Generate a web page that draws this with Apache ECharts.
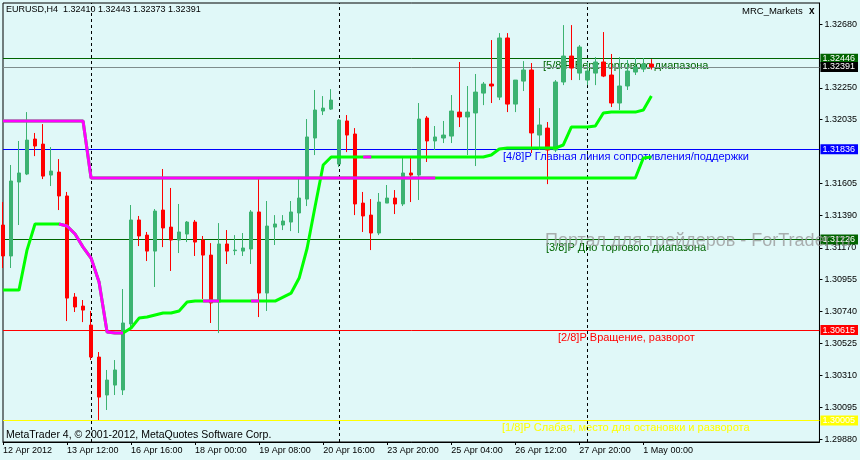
<!DOCTYPE html>
<html>
<head>
<meta charset="utf-8">
<title>EURUSD,H4</title>
<script src="https://cdn.jsdelivr.net/npm/echarts@6/dist/echarts.min.js"></script>
<style>
  html, body { margin: 0; padding: 0; background: #e0f8f8; }
  #chart { width: 860px; height: 460px; }
</style>
</head>
<body>
<div id="chart"></div>
<script>
// time axis: one label every 8 bars (H4)
const tickLabels = ['12 Apr 2012', '13 Apr 12:00', '16 Apr 16:00', '18 Apr 00:00', '19 Apr 08:00',
  '20 Apr 16:00', '23 Apr 20:00', '25 Apr 04:00', '26 Apr 12:00', '27 Apr 20:00', '1 May 00:00'];
const slotCount = 103; // bars + empty space on the right (chart shift)

// [open, close, low, high]
const candles = [
  [1.31324, 1.31115, 1.31034, 1.31479], [1.31115, 1.31621, 1.31034, 1.31729],
  [1.31614, 1.31675, 1.31324, 1.31891], [1.31668, 1.31897, 1.31661, 1.32086],
  [1.31904, 1.31857, 1.31789, 1.31945], [1.31870, 1.31654, 1.31634, 1.32005],
  [1.31661, 1.31688, 1.31587, 1.31850], [1.31681, 1.31520, 1.31425, 1.31769],
  [1.31520, 1.30831, 1.30676, 1.31547], [1.30838, 1.30771, 1.30737, 1.30865],
  [1.30777, 1.30750, 1.30669, 1.30818], [1.30649, 1.30433, 1.30413, 1.30744],
  [1.30433, 1.30163, 1.30008, 1.30467], [1.30177, 1.30278, 1.30076, 1.30346],
  [1.30244, 1.30346, 1.30177, 1.30413], [1.30211, 1.30663, 1.30177, 1.30892],
  [1.30656, 1.31358, 1.30615, 1.31459], [1.31358, 1.31250, 1.31182, 1.31385],
  [1.31256, 1.31148, 1.31081, 1.31277], [1.31148, 1.31418, 1.30906, 1.31432],
  [1.31425, 1.31304, 1.31175, 1.31702], [1.31310, 1.31223, 1.31014, 1.31574],
  [1.31223, 1.31277, 1.31135, 1.31466], [1.31263, 1.31344, 1.31209, 1.31351],
  [1.31344, 1.31209, 1.31115, 1.31358], [1.31223, 1.31121, 1.30825, 1.31250],
  [1.31121, 1.30798, 1.30663, 1.31202], [1.30804, 1.31196, 1.30595, 1.31337],
  [1.31196, 1.31148, 1.31061, 1.31290], [1.31151, 1.31155, 1.31121, 1.31256],
  [1.31148, 1.31169, 1.31115, 1.31270], [1.31162, 1.31412, 1.31061, 1.31425],
  [1.31412, 1.30865, 1.30703, 1.31634], [1.30865, 1.31317, 1.30744, 1.31486],
  [1.31310, 1.31331, 1.31189, 1.31391], [1.31324, 1.31351, 1.31290, 1.31391],
  [1.31344, 1.31412, 1.31283, 1.31486], [1.31405, 1.31506, 1.31270, 1.31648],
  [1.31499, 1.31918, 1.31452, 1.32039], [1.31911, 1.32100, 1.31796, 1.32235],
  [1.32093, 1.32113, 1.32066, 1.32194], [1.32106, 1.32167, 1.32100, 1.32241],
  [1.31735, 1.32032, 1.31715, 1.32039], [1.32026, 1.31931, 1.31816, 1.32066],
  [1.31938, 1.31466, 1.31391, 1.31978], [1.31472, 1.31385, 1.31277, 1.31547],
  [1.31391, 1.31270, 1.31155, 1.31499], [1.31270, 1.31479, 1.31256, 1.31540],
  [1.31472, 1.31506, 1.31472, 1.31594], [1.31506, 1.31466, 1.31398, 1.31560],
  [1.31466, 1.31675, 1.31452, 1.31789], [1.31675, 1.31661, 1.31479, 1.31789],
  [1.31661, 1.32039, 1.31493, 1.32147], [1.32046, 1.31891, 1.31749, 1.32059],
  [1.31891, 1.31918, 1.31830, 1.31992], [1.31911, 1.31931, 1.31877, 1.32026],
  [1.31924, 1.32093, 1.31877, 1.32201], [1.32086, 1.32053, 1.31985, 1.32424],
  [1.32053, 1.32086, 1.31796, 1.32262], [1.32080, 1.32221, 1.31722, 1.32343],
  [1.32214, 1.32275, 1.32133, 1.32289], [1.32275, 1.32262, 1.32147, 1.32572],
  [1.32187, 1.32586, 1.32167, 1.32619], [1.32586, 1.32140, 1.32086, 1.32619],
  [1.32140, 1.32302, 1.32086, 1.32302], [1.32295, 1.32370, 1.32228, 1.32430],
  [1.32370, 1.31945, 1.31810, 1.32417], [1.31931, 1.31999, 1.31830, 1.32113],
  [1.31978, 1.31830, 1.31600, 1.32019], [1.31830, 1.32289, 1.31816, 1.32302],
  [1.32289, 1.32464, 1.32268, 1.32673], [1.32464, 1.32383, 1.32302, 1.32673],
  [1.32349, 1.32525, 1.32302, 1.32538], [1.32302, 1.32363, 1.32268, 1.32424],
  [1.32349, 1.32424, 1.32268, 1.32457], [1.32424, 1.32329, 1.32322, 1.32626],
  [1.32336, 1.32147, 1.32120, 1.32478], [1.32147, 1.32262, 1.32100, 1.32457],
  [1.32262, 1.32363, 1.32235, 1.32437], [1.32356, 1.32390, 1.32336, 1.32451],
  [1.32376, 1.32410, 1.32356, 1.32451], [1.32410, 1.32391, 1.32373, 1.32443]
];

// MRC indicator lines
const upperLine = [
  1.32026, 1.32026, 1.32026, 1.32026, 1.32026, 1.32026, 1.32026, 1.32026, 1.32026, 1.32026, 1.32026,
  1.31641, 1.31641, 1.31641, 1.31641, 1.31641, 1.31641, 1.31641, 1.31641, 1.31641, 1.31641,
  1.31641, 1.31641, 1.31641, 1.31641, 1.31641, 1.31641, 1.31641, 1.31641, 1.31641, 1.31641,
  1.31641, 1.31641, 1.31641, 1.31641, 1.31641, 1.31641, 1.31641, 1.31641, 1.31641, 1.31641,
  1.31641, 1.31641, 1.31641, 1.31641, 1.31641, 1.31641, 1.31641, 1.31641, 1.31641, 1.31641,
  1.31641, 1.31641, 1.31641, 1.31641, 1.31641, 1.31641, 1.31641, 1.31641, 1.31641, 1.31641,
  1.31641, 1.31641, 1.31641, 1.31641, 1.31641, 1.31641, 1.31641, 1.31641, 1.31641, 1.31641,
  1.31641, 1.31641, 1.31641, 1.31641, 1.31641, 1.31641, 1.31641, 1.31641, 1.31641,
  1.31776, 1.31783
];
const lowerLine = [
  1.30885, 1.30885, 1.30885, 1.31155, 1.31331, 1.31331, 1.31331, 1.31331, 1.31317, 1.31263,
  1.31175, 1.31101, 1.30939, 1.30602, 1.30595, 1.30595, 1.30629, 1.30696, 1.30703, 1.30717,
  1.30730, 1.30730, 1.30744, 1.30804, 1.30811, 1.30811, 1.30811, 1.30811, 1.30811, 1.30811,
  1.30811, 1.30811, 1.30811, 1.30811, 1.30811, 1.30838, 1.30865, 1.30966, 1.31169, 1.31452,
  1.31729, 1.31783, 1.31783, 1.31783, 1.31783, 1.31783, 1.31783, 1.31783, 1.31783, 1.31783,
  1.31783, 1.31783, 1.31783, 1.31783, 1.31783, 1.31783, 1.31783, 1.31783, 1.31783, 1.31783,
  1.31783, 1.31796, 1.31837, 1.31843, 1.31843, 1.31843, 1.31843, 1.31843, 1.31843, 1.31843,
  1.31864, 1.31985, 1.31985, 1.31985, 1.31992, 1.32080, 1.32086, 1.32086, 1.32086, 1.32086,
  1.32100, 1.32194
];
// bar ranges where the line is drawn in magenta (down)
const upperDown = [[0, 54]];
const lowerDown = [[7, 15], [25, 27], [31, 32], [45, 46]];

// horizontal levels and week separators
const levelValues = [1.32446, 1.32391, 1.31836, 1.31226, 1.30615, 1.30005];
const separators = [11, 42, 73];
const priceTicks = [1.32680, 1.32250, 1.32035, 1.31605, 1.31390, 1.31170, 1.30955,
  1.30740, 1.30525, 1.30310, 1.30095, 1.29880];

const levelColors = ['#006400', '#7f8c8c', '#0000ff', '#006400', '#ff0000', '#ffff00'];
const levelBoxes = ['#006400', '#000000', '#0000ff', '#006400', '#ff0000', '#ffff00'];

const font = '"Liberation Sans", Arial, sans-serif';
const categories = Array.from({length: slotCount}, (_, i) => String(i));
const downPart = (line, ranges) => line.map((v, i) =>
  ranges.some(([a, b]) => i >= a && i <= b) ? v : '-');
const showTick = (i) => i % 8 === 0 && i <= 80;

const chart = echarts.init(document.getElementById('chart'));

const levelLines = levelValues.map((v, i) => ({
  yAxis: v,
  lineStyle: {color: levelColors[i], width: 1, type: 'solid', opacity: 1},
  label: {
    show: true, position: 'end', distance: 1,
    formatter: v.toFixed(5),
    color: '#ffffff', backgroundColor: levelBoxes[i],
    fontFamily: font, fontSize: 9, padding: [1, 3, 0, 2], lineHeight: 9
  }
}));
const sepLines = separators.map(i => ({
  xAxis: i,
  lineStyle: {color: '#000000', width: 1, type: [3, 3], opacity: 1},
  label: {show: false}
}));

const lineSeries = (data, color, z) => ({
  type: 'line', data: data, z: z,
  showSymbol: false, symbol: 'none', connectNulls: false,
  lineStyle: {color: color, width: 3}, itemStyle: {color: color},
  silent: true
});

chart.setOption({
  animation: false,
  backgroundColor: '#e0f8f8',
  grid: {left: 3, right: 40, top: 3, bottom: 18, show: true,
    borderColor: '#000000', borderWidth: 1, backgroundColor: '#e0f8f8'},
  xAxis: {
    type: 'category', data: categories, boundaryGap: false,
    axisLine: {lineStyle: {color: '#000000', width: 1}},
    axisTick: {interval: showTick, length: 3, lineStyle: {color: '#000000'}},
    axisLabel: {
      interval: showTick, align: 'left', margin: 4,
      color: '#000000', fontFamily: font, fontSize: 9,
      formatter: (v, i) => tickLabels[i / 8] || ''
    },
    splitLine: {show: false}
  },
  yAxis: {
    type: 'value', position: 'right', min: 1.29860, max: 1.32822, scale: true,
    axisLine: {show: true, lineStyle: {color: '#000000', width: 1}},
    axisTick: {show: true, length: 3, customValues: priceTicks, lineStyle: {color: '#000000'}},
    axisLabel: {
      customValues: priceTicks, margin: 5,
      color: '#000000', fontFamily: font, fontSize: 9,
      formatter: v => v.toFixed(5)
    },
    splitLine: {show: false}
  },
  series: [
    {
      // levels and separators live on their own empty series
      type: 'line', data: [], z: 1, silent: true,
      markLine: {
        silent: true, symbol: 'none', z: 1, animation: false, precision: 5,
        data: levelLines.concat(sepLines)
      }
    },
    {
      type: 'candlestick', data: candles, barWidth: 4, z: 2,
      itemStyle: {
        color: '#3cb371', color0: '#ff0000',
        borderColor: '#3cb371', borderColor0: '#ff0000', borderWidth: 1
      }
    },
    lineSeries(upperLine, '#00ff00', 3),
    lineSeries(lowerLine, '#00ff00', 3),
    lineSeries(downPart(upperLine, upperDown), '#ff00ff', 4),
    lineSeries(downPart(lowerLine, lowerDown), '#ff00ff', 4)
  ],
  graphic: [
    {type: 'text', x: 6, y: 10, z: 10, style: {text: 'EURUSD,H4  1.32410 1.32443 1.32373 1.32391',
      fill: '#000000', font: '9px ' + font, verticalAlign: 'middle'}},
    {type: 'text', x: 742, y: 11, z: 10, style: {text: 'MRC_Markets',
      fill: '#000000', font: '9.5px ' + font, verticalAlign: 'middle'}},
    {type: 'text', x: 809, y: 11, z: 10, style: {text: 'x',
      fill: '#000000', font: 'bold 10px ' + font, verticalAlign: 'middle'}},
    {type: 'text', x: 6, y: 435, z: 10, style: {text: 'MetaTrader 4, © 2001-2012, MetaQuotes Software Corp.',
      fill: '#000000', font: '10.5px ' + font, verticalAlign: 'middle'}},
    {type: 'text', x: 543, y: 66, z: 0, style: {text: '[5/8]P Верх торгового диапазона',
      fill: '#006400', font: '11px ' + font, verticalAlign: 'middle'}},
    {type: 'text', x: 503, y: 157, z: 0, style: {text: '[4/8]P Главная линия сопротивления/поддержки',
      fill: '#0000ff', font: '11px ' + font, verticalAlign: 'middle'}},
    {type: 'text', x: 546, y: 248, z: 0, style: {text: '[3/8]P Дно торгового диапазона',
      fill: '#006400', font: '11px ' + font, verticalAlign: 'middle'}},
    {type: 'text', x: 558, y: 338, z: 0, style: {text: '[2/8]P Вращение, разворот',
      fill: '#ff0000', font: '11px ' + font, verticalAlign: 'middle'}},
    {type: 'text', x: 502, y: 428, z: 0, style: {text: '[1/8]P Слабая, место для остановки и разворота',
      fill: '#ffff00', font: '11px ' + font, verticalAlign: 'middle'}},
    {type: 'text', x: 545, y: 241, zlevel: 1, z: 50, style: {text: 'Портал для трейдеров - ForTrader.ru',
      fill: 'rgba(150,150,150,0.75)', font: '18px ' + font, verticalAlign: 'middle'}}
  ]
});
</script>
</body>
</html>
